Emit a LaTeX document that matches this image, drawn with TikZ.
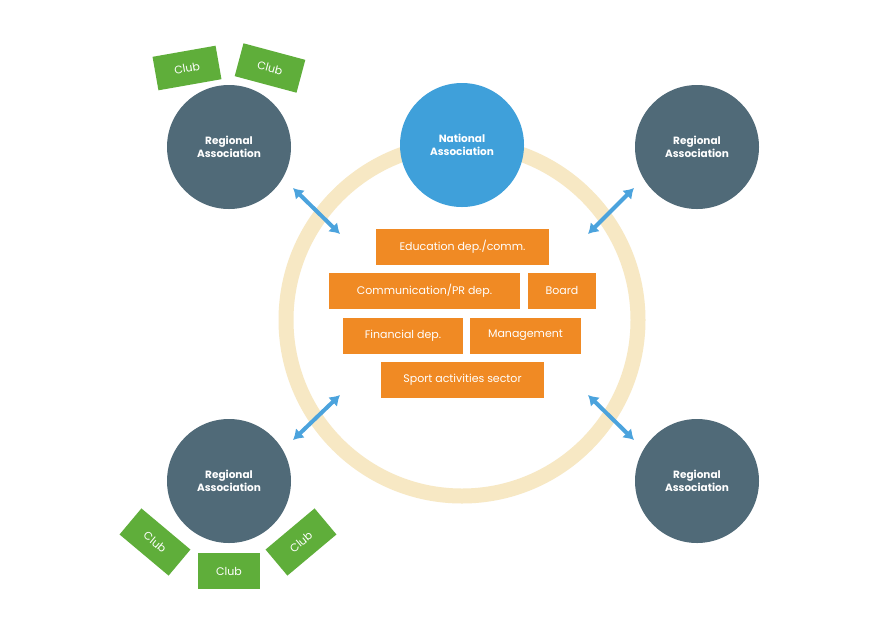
\documentclass[tikz,border=0pt]{standalone}
\usepackage{fontspec}
\setmainfont{Poppins}
\begin{document}
\begin{tikzpicture}[x=1pt,y=-1pt,
 reg/.style={circle,fill=regc,minimum size=124pt,inner sep=0pt,text=white,font=\fontsize{10.5}{13}\selectfont\bfseries,align=center},
 club/.style={fill=clubc,minimum width=64pt,minimum height=34pt,text=white,font=\fontsize{11}{12}\selectfont},
 dep/.style={fill=depc,minimum height=36pt,inner sep=0pt,text=white,font=\fontsize{11}{12}\selectfont},
 arr/.style={<->,draw=arrc,line width=4pt,>={Latex[length=10pt,width=13pt]}}]
\usetikzlibrary{arrows.meta}
\definecolor{regc}{HTML}{506A78}
\definecolor{natc}{HTML}{3FA0DA}
\definecolor{clubc}{HTML}{5FAE3A}
\definecolor{depc}{HTML}{F08A24}
\definecolor{arrc}{HTML}{4BA3DD}
\definecolor{ringc}{HTML}{F7E8C4}
\fill[white] (0,0) rectangle (880,630);
\useasboundingbox (0,0) rectangle (880,630);
\node[circle,draw=ringc,line width=15pt,minimum size=352pt] (ring) at (462,320) {};
\node[reg,fill=natc] (nat) at (462,145) {National\\Association};
\node[reg] (r1) at (229,147) {Regional\\Association};
\node[reg] (r2) at (697,147) {Regional\\Association};
\node[reg] (r3) at (229,481) {Regional\\Association};
\node[reg] (r4) at (697,481) {Regional\\Association};
\node[club,rotate=10] (c1) at (187,68) {Club};
\node[club,rotate=-15] (c2) at (270,68) {Club};
\node[club,rotate=-40] (c3) at (155,542) {Club};
\node[club,minimum width=62pt,minimum height=36pt] (c4) at (229,571) {Club};
\node[club,rotate=40] (c5) at (301,542) {Club};
\coordinate (a1) at (293,188); \coordinate (b1) at (340,234);
\coordinate (a2) at (634,188); \coordinate (b2) at (588,234);
\coordinate (a3) at (293,440); \coordinate (b3) at (340,395);
\coordinate (a4) at (634,440); \coordinate (b4) at (588,395);
\draw[arr] (a1) -- (b1);
\draw[arr] (a2) -- (b2);
\draw[arr] (a3) -- (b3);
\draw[arr] (a4) -- (b4);
\node[dep,minimum width=173pt] (d1) at (462.5,247) {Education dep./comm.};
\node[dep,minimum width=191pt] (d2) at (424.5,290.5) {Communication/PR dep.};
\node[dep,minimum width=68pt] (d3) at (562,290.5) {Board};
\node[dep,minimum width=120pt] (d4) at (403,335.5) {Financial dep.};
\node[dep,minimum width=111pt] (d5) at (525.5,335.5) {Management};
\node[dep,minimum width=163pt] (d6) at (462.5,380) {Sport activities sector};
\end{tikzpicture}
\end{document}
